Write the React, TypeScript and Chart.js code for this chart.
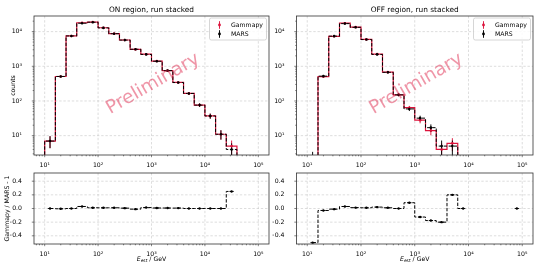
import { useEffect, useRef } from 'react';
import { Chart, registerables } from 'chart.js';

Chart.register(...registerables);

// ---------------- data ----------------
const BIN_EDGES = [10, 15.85, 25.12, 39.81, 63.1, 100, 158.5, 251.2, 398.1, 631, 1000, 1585, 2512, 3981, 6310, 10000, 15850, 25120, 39810, 63100, 100000];

const ON_GAMMAPY = [7, 508, 7500, 18000, 18900, 12930, 8790, 5730, 3070, 2230, 1410, 755, 342, 165, 76, 37, 11, 5, 0, 0];
const ON_MARS = [7, 510, 7500, 17480, 18700, 12800, 8700, 5700, 3100, 2200, 1400, 750, 340, 165, 76, 37, 11, 4, 0, 0];
const OFF_GAMMAPY = [1, 505, 7330, 17500, 13470, 5960, 2245, 677, 150, 64, 28, 14, 4, 6, 1, 0, 0, 0, 0, 1];
const OFF_MARS = [2, 520, 7400, 17000, 13300, 5900, 2200, 670, 150, 59, 32, 17, 5, 5, 1, 0, 0, 0, 0, 1];

const X_TICKS = [10, 100, 1000, 10000, 100000];
const X_TICK_LABELS = ['10¹', '10²', '10³', '10⁴', '10⁵'];
const COUNT_TICKS = [10, 100, 1000, 10000];
const COUNT_TICK_LABELS = ['10¹', '10²', '10³', '10⁴'];
const RATIO_TICKS = [-0.4, -0.2, 0, 0.2, 0.4];
const RATIO_TICK_LABELS = ['−0.4', '−0.2', '0.0', '0.2', '0.4'];

const X_RANGE = [6.31, 158500];
const COUNT_RANGE = [2.77, 28200];
const RATIO_RANGE = [-0.52, 0.52];

const TITLES = ['ON region, run stacked', 'OFF region, run stacked'];
const SERIES_NAMES = ['Gammapy', 'MARS'];
const COUNTS_LABEL = 'counts';
const RATIO_LABEL = 'Gammapy / MARS - 1';
const WATERMARK = 'Preliminary';

// ---------------- style ----------------
const FONT = "'DejaVu Sans', 'Liberation Sans', sans-serif";
const RED = '#dc143c';
const W = 540;
const H = 270;
const AXW = 24;
const AXH = 14;
const LOG_FLOOR = 0.01;
const FS = 6.2;

type Rect = { l: number; t: number; r: number; b: number };
const AREAS: Rect[] = [
  { l: 34, t: 16, r: 269, b: 155 },
  { l: 296.5, t: 16, r: 533, b: 155 },
  { l: 34, t: 173, r: 269, b: 244 },
  { l: 296.5, t: 173, r: 533, b: 244 },
];

// ---------------- helpers ----------------
const CENTERS = BIN_EDGES.slice(0, -1).map((e, i) => Math.sqrt(e * BIN_EDGES[i + 1]));

function stairs(counts: number[]) {
  const pts: { x: number; y: number }[] = [{ x: BIN_EDGES[0], y: LOG_FLOOR }];
  counts.forEach((c, i) => {
    const y = c > 0 ? c : LOG_FLOOR;
    pts.push({ x: BIN_EDGES[i], y }, { x: BIN_EDGES[i + 1], y });
  });
  pts.push({ x: BIN_EDGES[BIN_EDGES.length - 1], y: LOG_FLOOR });
  return pts;
}

function markerPts(counts: number[]) {
  return counts.map((c, i) => ({ x: CENTERS[i], y: c })).filter((p) => p.y > 0);
}

function ratioOf(g: number[], m: number[]) {
  return g.map((v, i) => (m[i] > 0 ? v / m[i] - 1 : null));
}

function minorTicks(min: number, max: number) {
  const out: number[] = [];
  for (let e = Math.floor(Math.log10(min)); e <= Math.ceil(Math.log10(max)); e++) {
    for (let k = 2; k <= 9; k++) {
      const v = k * Math.pow(10, e);
      if (v >= min && v <= max) out.push(v);
    }
  }
  return out;
}

const labelLookup = (vals: number[], labels: string[]) => (v: number) => {
  const i = vals.findIndex((t) => Math.abs(t - v) <= 1e-9 * Math.max(1, Math.abs(t)));
  return i >= 0 ? labels[i] : '';
};

const font = (size: number, style = '') => `${style}${size}px ${FONT}`;

// ---------------- plugins ----------------
function axesPlugin(logY: boolean) {
  return {
    id: 'axesDeco',
    beforeDatasetsDraw(chart: any) {
      const { ctx, chartArea: a, scales } = chart;
      ctx.save();
      ctx.strokeStyle = '#cfcfcf';
      ctx.lineWidth = 0.7;
      ctx.setLineDash([2.4, 1.8]);
      X_TICKS.forEach((v) => {
        const px = scales.x.getPixelForValue(v);
        ctx.beginPath();
        ctx.moveTo(px, a.top);
        ctx.lineTo(px, a.bottom);
        ctx.stroke();
      });
      (logY ? COUNT_TICKS : RATIO_TICKS).forEach((v) => {
        const py = scales.y.getPixelForValue(v);
        ctx.beginPath();
        ctx.moveTo(a.left, py);
        ctx.lineTo(a.right, py);
        ctx.stroke();
      });
      ctx.restore();
    },
    afterDraw(chart: any) {
      const { ctx, chartArea: a, scales } = chart;
      ctx.save();
      ctx.strokeStyle = '#333';
      ctx.lineWidth = 0.8;
      ctx.setLineDash([]);
      ctx.strokeRect(a.left, a.top, a.right - a.left, a.bottom - a.top);
      ctx.lineWidth = 0.6;
      const tick = (x1: number, y1: number, x2: number, y2: number) => {
        ctx.beginPath();
        ctx.moveTo(x1, y1);
        ctx.lineTo(x2, y2);
        ctx.stroke();
      };
      X_TICKS.forEach((v) => {
        const px = scales.x.getPixelForValue(v);
        tick(px, a.bottom, px, a.bottom + 2.2);
      });
      minorTicks(X_RANGE[0], X_RANGE[1]).forEach((v) => {
        const px = scales.x.getPixelForValue(v);
        tick(px, a.bottom, px, a.bottom + 1.3);
      });
      (logY ? COUNT_TICKS : RATIO_TICKS).forEach((v) => {
        const py = scales.y.getPixelForValue(v);
        tick(a.left, py, a.left - 2.2, py);
      });
      if (logY) {
        minorTicks(COUNT_RANGE[0], COUNT_RANGE[1]).forEach((v) => {
          const py = scales.y.getPixelForValue(v);
          tick(a.left, py, a.left - 1.3, py);
        });
      }
      ctx.restore();
    },
  };
}

function errorbarPlugin(g: number[], m: number[]) {
  return {
    id: 'errorbars',
    afterDatasetDraw(chart: any, args: any) {
      if (args.index !== 1) return;
      const { ctx, chartArea: a, scales } = chart;
      ctx.save();
      ctx.beginPath();
      ctx.rect(a.left, a.top, a.right - a.left, a.bottom - a.top);
      ctx.clip();
      ctx.lineWidth = 0.95;
      [
        { vals: g, color: RED },
        { vals: m, color: '#000' },
      ].forEach(({ vals, color }) => {
        ctx.strokeStyle = color;
        vals.forEach((c, i) => {
          if (c <= 0) return;
          const e = Math.sqrt(c);
          const px = scales.x.getPixelForValue(CENTERS[i]);
          const lo = c - e > 0 ? scales.y.getPixelForValue(c - e) : a.bottom + 5;
          const hi = scales.y.getPixelForValue(c + e);
          ctx.beginPath();
          ctx.moveTo(px, lo);
          ctx.lineTo(px, hi);
          ctx.stroke();
        });
      });
      ctx.restore();
    },
  };
}

type Annot = { title?: string; ylabel?: string; xlabel?: boolean; legend?: boolean; watermark?: boolean };

function annotPlugin(spec: Annot) {
  return {
    id: 'annot',
    afterDatasetsDraw(chart: any) {
      if (!spec.watermark) return;
      const { ctx, chartArea: a } = chart;
      ctx.save();
      ctx.translate((a.left + a.right) / 2 + 1.5, (a.top + a.bottom) / 2 - 1.5);
      ctx.rotate((-30 * Math.PI) / 180);
      ctx.font = font(18.5);
      ctx.fillStyle = 'rgba(220, 20, 60, 0.45)';
      ctx.textAlign = 'center';
      ctx.textBaseline = 'middle';
      ctx.fillText(WATERMARK, 0, 0);
      ctx.restore();
    },
    afterDraw(chart: any) {
      const { ctx, chartArea: a } = chart;
      const cx = (a.left + a.right) / 2;
      const cy = (a.top + a.bottom) / 2;
      ctx.save();
      ctx.fillStyle = '#000';
      if (spec.title) {
        ctx.font = font(7.4);
        ctx.textAlign = 'center';
        ctx.textBaseline = 'alphabetic';
        ctx.fillText(spec.title, cx, a.top - 4);
      }
      if (spec.ylabel) {
        ctx.save();
        ctx.translate(spec.ylabel === COUNTS_LABEL ? 13.3 : 7.6, cy);
        ctx.rotate(-Math.PI / 2);
        ctx.font = font(FS);
        ctx.textAlign = 'center';
        ctx.textBaseline = 'middle';
        ctx.fillText(spec.ylabel, 0, 0);
        ctx.restore();
      }
      if (spec.xlabel) {
        const base = 260.8;
        const fE = font(FS, 'oblique ');
        const fSub = font(4.4);
        const fMain = font(FS);
        ctx.textAlign = 'left';
        ctx.textBaseline = 'alphabetic';
        ctx.font = fE;
        const wE = ctx.measureText('E').width;
        ctx.font = fSub;
        const wS = ctx.measureText('est').width;
        ctx.font = fMain;
        const rest = ' / GeV';
        const wR = ctx.measureText(rest).width;
        let x = cx - (wE + wS + wR) / 2;
        ctx.font = fE;
        ctx.fillText('E', x, base);
        x += wE;
        ctx.font = fSub;
        ctx.fillText('est', x, base + 1.3);
        x += wS;
        ctx.font = fMain;
        ctx.fillText(rest, x, base);
      }
      if (spec.legend) {
        const bw = 57;
        const bh = 22;
        const x0 = a.right - 2.5 - bw;
        const y0 = a.top + 2;
        ctx.fillStyle = 'rgba(255,255,255,0.85)';
        ctx.strokeStyle = '#cccccc';
        ctx.lineWidth = 0.8;
        ctx.beginPath();
        (ctx as any).roundRect(x0, y0, bw, bh, 1.8);
        ctx.fill();
        ctx.stroke();
        [RED, '#000'].forEach((col, i) => {
          const y = y0 + 7 + i * 9;
          ctx.strokeStyle = col;
          ctx.fillStyle = col;
          ctx.lineWidth = 0.95;
          ctx.beginPath();
          ctx.moveTo(x0 + 10, y - 3.8);
          ctx.lineTo(x0 + 10, y + 3.8);
          ctx.stroke();
          ctx.beginPath();
          ctx.arc(x0 + 10, y, 1.4, 0, Math.PI * 2);
          ctx.fill();
          ctx.fillStyle = '#000';
          ctx.font = font(FS);
          ctx.textAlign = 'left';
          ctx.textBaseline = 'middle';
          ctx.fillText(SERIES_NAMES[i], x0 + 21.5, y);
        });
      }
      ctx.restore();
    },
  };
}

// ---------------- config ----------------
function makeConfig(area: Rect, logY: boolean, datasets: any[], plugins: any[]) {
  const xLabel = labelLookup(X_TICKS, X_TICK_LABELS);
  const yVals = logY ? COUNT_TICKS : RATIO_TICKS;
  const yLabel = labelLookup(yVals, logY ? COUNT_TICK_LABELS : RATIO_TICK_LABELS);
  const yRange = logY ? COUNT_RANGE : RATIO_RANGE;
  const tickFont = { family: FONT, size: FS };
  return {
    type: 'line',
    data: { datasets },
    options: {
      animation: false,
      responsive: false,
      events: [],
      layout: {
        autoPadding: false,
        padding: { left: area.l - AXW, top: area.t, right: W - area.r, bottom: H - area.b - AXH },
      },
      plugins: { legend: { display: false }, title: { display: false }, tooltip: { enabled: false } },
      elements: { line: { tension: 0 } },
      scales: {
        x: {
          type: 'logarithmic',
          min: X_RANGE[0],
          max: X_RANGE[1],
          bounds: 'data',
          grid: { display: false },
          border: { display: false },
          afterBuildTicks: (s: any) => {
            s.ticks = X_TICKS.map((v) => ({ value: v }));
          },
          afterFit: (s: any) => {
            s.height = AXH;
          },
          ticks: {
            autoSkip: false,
            maxRotation: 0,
            minRotation: 0,
            padding: -1,
            color: '#000',
            font: tickFont,
            callback: (v: any) => xLabel(Number(v)),
          },
        },
        y: {
          type: logY ? 'logarithmic' : 'linear',
          min: yRange[0],
          max: yRange[1],
          bounds: 'data',
          grid: { display: false },
          border: { display: false },
          afterBuildTicks: (s: any) => {
            s.ticks = yVals.map((v) => ({ value: v }));
          },
          afterFit: (s: any) => {
            s.width = AXW;
          },
          ticks: {
            autoSkip: false,
            padding: 4,
            color: '#000',
            font: tickFont,
            callback: (v: any) => yLabel(Number(v)),
          },
        },
      },
    },
    plugins,
  };
}

function countsConfig(area: Rect, g: number[], m: number[], annot: Annot) {
  const datasets = [
    { data: stairs(g), borderColor: RED, borderWidth: 1.2, pointRadius: 0, fill: false, order: 4 },
    { data: stairs(m), borderColor: '#000', borderWidth: 1, borderDash: [3.4, 1.6], pointRadius: 0, fill: false, order: 3 },
    { data: markerPts(g), showLine: false, pointRadius: 1.3, pointBackgroundColor: RED, pointBorderColor: RED, pointBorderWidth: 0, order: 2 },
    { data: markerPts(m), showLine: false, pointRadius: 1.3, pointBackgroundColor: '#000', pointBorderColor: '#000', pointBorderWidth: 0, order: 1 },
  ];
  return makeConfig(area, true, datasets, [axesPlugin(true), errorbarPlugin(g, m), annotPlugin(annot)]);
}

function ratioConfig(area: Rect, g: number[], m: number[], annot: Annot) {
  const r = ratioOf(g, m);
  const line = CENTERS.map((c, i) => ({ x: c, y: r[i] }));
  const pts = line.filter((p) => p.y !== null);
  const datasets = [
    { data: line, stepped: 'middle', borderColor: '#000', borderWidth: 1, borderDash: [3.4, 1.6], pointRadius: 0, fill: false, spanGaps: false, order: 3 },
    { data: pts, showLine: false, pointStyle: 'line', pointRadius: 2.2, pointBorderColor: '#000', pointBorderWidth: 0.9, order: 2 },
    { data: pts, showLine: false, pointRadius: 1.2, pointBackgroundColor: '#000', pointBorderColor: '#000', pointBorderWidth: 0, order: 1 },
  ];
  return makeConfig(area, false, datasets, [axesPlugin(false), annotPlugin(annot)]);
}

export default function App() {
  const r0 = useRef<HTMLCanvasElement>(null);
  const r1 = useRef<HTMLCanvasElement>(null);
  const r2 = useRef<HTMLCanvasElement>(null);
  const r3 = useRef<HTMLCanvasElement>(null);
  const refs = [r0, r1, r2, r3];

  useEffect(() => {
    const configs = [
      countsConfig(AREAS[0], ON_GAMMAPY, ON_MARS, { title: TITLES[0], ylabel: COUNTS_LABEL, legend: true, watermark: true }),
      countsConfig(AREAS[1], OFF_GAMMAPY, OFF_MARS, { title: TITLES[1], legend: true, watermark: true }),
      ratioConfig(AREAS[2], ON_GAMMAPY, ON_MARS, { ylabel: RATIO_LABEL, xlabel: true }),
      ratioConfig(AREAS[3], OFF_GAMMAPY, OFF_MARS, { xlabel: true }),
    ];
    const charts = configs.map((cfg, i) => new Chart(refs[i].current as HTMLCanvasElement, cfg as any));
    return () => charts.forEach((c) => c.destroy());
  }, []);

  return (
    <div style={{ position: 'fixed', left: 0, top: 0, width: W, height: H, background: '#fff', overflow: 'hidden' }}>
      {refs.map((r, i) => (
        <canvas
          key={i}
          ref={r}
          width={W}
          height={H}
          style={{ position: 'absolute', left: 0, top: 0, width: W, height: H }}
        />
      ))}
    </div>
  );
}
